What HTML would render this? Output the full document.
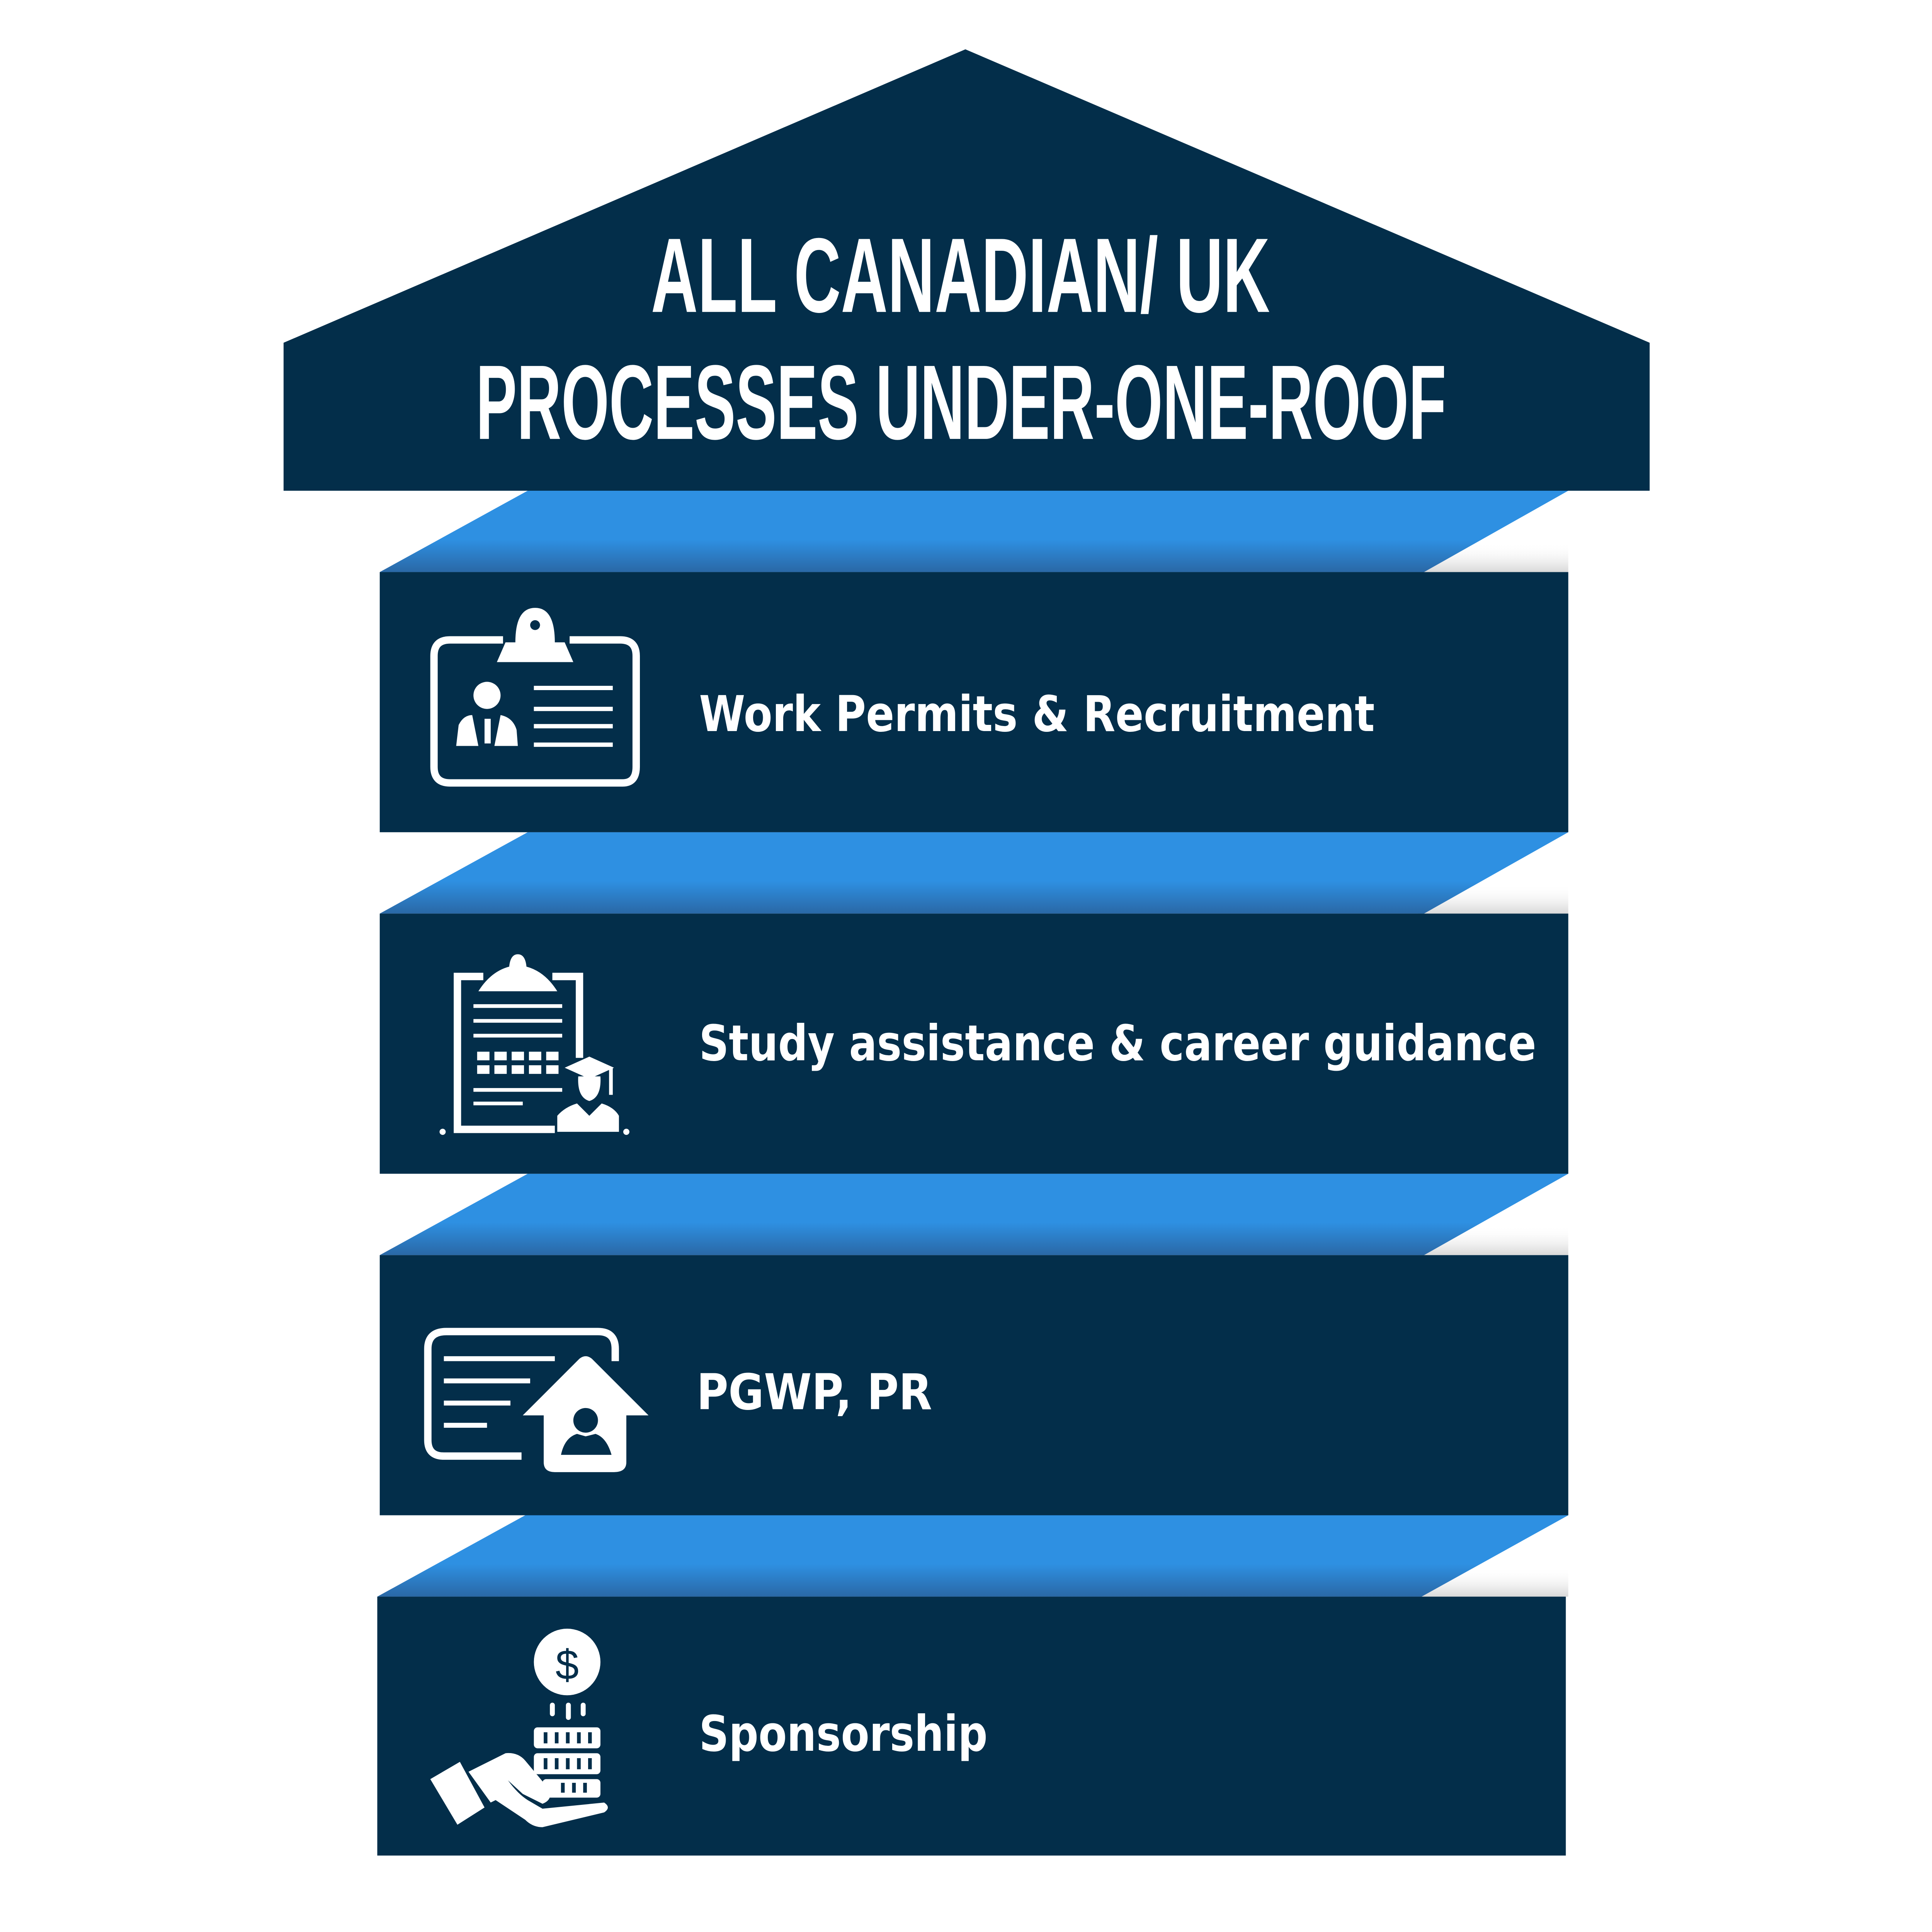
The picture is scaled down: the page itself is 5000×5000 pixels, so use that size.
<!DOCTYPE html>
<html><head><meta charset="utf-8"><style>
html,body{margin:0;padding:0;background:#fff;}
svg{display:block;}
</style></head><body>
<svg width="5000" height="5000" viewBox="0 0 1567 1567" xmlns="http://www.w3.org/2000/svg">
<defs>
<linearGradient id="bg" x1="0" y1="0" x2="0" y2="1">
<stop offset="0" stop-color="#2e90e2"/><stop offset="0.6" stop-color="#2e90e2"/><stop offset="1" stop-color="#2a68a6"/>
</linearGradient>
<linearGradient id="sh" x1="0" y1="0" x2="0" y2="1">
<stop offset="0" stop-color="#fff" stop-opacity="0"/><stop offset="1" stop-color="#d8d8d8"/>
</linearGradient>
</defs>
<rect width="1567" height="1567" fill="#fff"/>
<g fill="url(#sh)">
<rect x="1150" y="440" width="122" height="24"/>
<rect x="1150" y="717" width="122" height="24"/>
<rect x="1150" y="994" width="122" height="24"/>
<rect x="1150" y="1271" width="122" height="24"/>
</g>
<g fill="url(#bg)">
<polygon points="428,398 1272,398 1155,464 308,464"/>
<polygon points="428,675 1272,675 1155,741 308,741"/>
<polygon points="428,952 1272,952 1155,1018 308,1018"/>
<polygon points="426,1229 1272,1229 1153,1295 306,1295"/>
</g>
<g fill="#032e4a">
<polygon points="783,40 1338,278 1338,398 230,398 230,278"/>
<rect x="308" y="464" width="964" height="211"/>
<rect x="308" y="741" width="964" height="211"/>
<rect x="308" y="1018" width="964" height="211"/>
<rect x="306" y="1295" width="964" height="210"/>
</g>
<g fill="#fff" font-family="'Liberation Sans',sans-serif" font-weight="bold">
<text x="528" y="253" font-size="86" textLength="502" lengthAdjust="spacingAndGlyphs">ALL CANADIAN/ UK</text>
<text x="386" y="356" font-size="86" textLength="787" lengthAdjust="spacingAndGlyphs">PROCESSES UNDER-ONE-ROOF</text>
</g>
<g fill="#fff" font-family="'DejaVu Sans','Liberation Sans',sans-serif" font-weight="bold" font-size="40">
<text x="567" y="593" textLength="548" lengthAdjust="spacingAndGlyphs">Work Permits &amp; Recruitment</text>
<text x="567" y="860" textLength="679" lengthAdjust="spacingAndGlyphs">Study assistance &amp; career guidance</text>
<text x="565" y="1143" textLength="191" lengthAdjust="spacingAndGlyphs">PGWP, PR</text>
<text x="567" y="1420" textLength="234" lengthAdjust="spacingAndGlyphs">Sponsorship</text>
</g>
<g stroke="#fff" fill="none" stroke-width="6">
<path d="M408,519 H365 Q352,519 352,532 V622 Q352,635 365,635 H505 Q516,635 516,622 V532 Q516,519 503,519 H462"/>
<g stroke-width="3.5"><line x1="433" y1="558" x2="497" y2="558"/><line x1="433" y1="575" x2="497" y2="575"/><line x1="433" y1="589" x2="497" y2="589"/><line x1="433" y1="604" x2="497" y2="604"/></g>
</g>
<g fill="#fff">
<path d="M418,521 Q418,493 434,493 Q450,493 450,521 H458 L465,537 H403 L410,521 Z"/>
<circle cx="434" cy="507" r="4" fill="#032e4a"/>
<circle cx="395" cy="564" r="11"/>
<path d="M370,605 L372,588 Q376,580 383,580 L388,605 Z"/>
<path d="M401,605 L406,580 Q416,582 419,592 L420,605 Z"/>
<rect x="393" y="583" width="5" height="20"/>
</g>
<g stroke="#fff" fill="none" stroke-width="6">
<path d="M392,792 H371 V916 H450"/>
<path d="M448,792 H470 V858"/>
<g stroke-width="3"><line x1="384" y1="816" x2="456" y2="816"/><line x1="384" y1="828" x2="456" y2="828"/><line x1="384" y1="840" x2="456" y2="840"/><line x1="384" y1="884" x2="456" y2="884"/><line x1="384" y1="895" x2="424" y2="895"/></g>
</g>
<g fill="#fff">
<path d="M388,804 Q398,788 413,784 Q414,774 420,774 Q426,774 427,784 Q442,788 452,804 Z"/>
<g>
<rect x="387" y="853" width="10" height="7"/><rect x="401" y="853" width="10" height="7"/><rect x="415" y="853" width="10" height="7"/><rect x="429" y="853" width="10" height="7"/><rect x="443" y="853" width="10" height="7"/>
<rect x="387" y="864" width="10" height="7"/><rect x="401" y="864" width="10" height="7"/><rect x="415" y="864" width="10" height="7"/><rect x="429" y="864" width="10" height="7"/><rect x="443" y="864" width="10" height="7"/>
</g>
<polygon points="458,866 478,857 498,866 478,875"/>
<path d="M469,873 Q468,890 478,893 Q488,890 487,873 Z"/>
<path d="M452,918 V905 Q458,898 468,895 L478,905 L488,895 Q498,898 502,905 V918 Z"/>
<rect x="494" y="866" width="3" height="22"/>
<circle cx="359" cy="918" r="2.5"/><circle cx="508" cy="918" r="2.5"/>
</g>
<g stroke="#fff" fill="none" stroke-width="6">
<path d="M423,1181 H360 Q347,1181 347,1168 V1094 Q347,1080 362,1080 H485 Q499,1080 499,1094 V1104"/>
<g stroke-width="4"><line x1="360" y1="1102" x2="450" y2="1102"/><line x1="360" y1="1120" x2="430" y2="1120"/><line x1="360" y1="1138" x2="414" y2="1138"/><line x1="360" y1="1156" x2="395" y2="1156"/></g>
</g>
<g fill="#fff">
<path d="M424,1148 L470,1102 Q475,1098 480,1102 L526,1148 H508 V1186 Q508,1194 498,1194 H450 Q441,1194 441,1186 V1148 Z"/>
<ellipse cx="475" cy="1152" rx="10" ry="10" fill="#032e4a"/>
<path d="M455,1180 Q458,1166 468,1163 L475,1165 L483,1163 Q492,1166 496,1180 Z" fill="#032e4a"/>
</g>
<g fill="#fff">
<circle cx="460" cy="1348" r="27"/>
<text x="460" y="1362" font-size="34" text-anchor="middle" fill="#032e4a" font-family="'Liberation Sans',sans-serif">$</text>
<rect x="446" y="1381" width="4" height="11" rx="2"/><rect x="459" y="1381" width="4" height="14" rx="2"/><rect x="471" y="1381" width="4" height="11" rx="2"/>
<rect x="433" y="1401" width="54" height="17" rx="3"/>
<rect x="433" y="1422" width="54" height="17" rx="3"/>
<rect x="440" y="1443" width="47" height="15" rx="3"/>
<path d="M349,1443 L373,1429 L393,1466 L371,1480 Z"/>
<path d="M380,1437 L410,1422 Q420,1421 426,1428 L446,1452 Q448,1460 440,1463 L424,1455 L412,1444 Q420,1455 428,1460 L440,1467 L490,1462 Q496,1466 490,1470 L440,1482 Q432,1482 426,1476 L402,1460 L398,1462 Z"/>
</g>
<g fill="#032e4a">
<rect x="441" y="1405" width="3" height="9"/><rect x="450" y="1405" width="3" height="9"/><rect x="459" y="1405" width="3" height="9"/><rect x="468" y="1405" width="3" height="9"/><rect x="477" y="1405" width="3" height="9"/>
<rect x="441" y="1426" width="3" height="9"/><rect x="450" y="1426" width="3" height="9"/><rect x="459" y="1426" width="3" height="9"/><rect x="468" y="1426" width="3" height="9"/><rect x="477" y="1426" width="3" height="9"/>
<rect x="455" y="1446" width="3" height="8"/><rect x="464" y="1446" width="3" height="8"/><rect x="473" y="1446" width="3" height="8"/>
</g>
</svg>
</body></html>
